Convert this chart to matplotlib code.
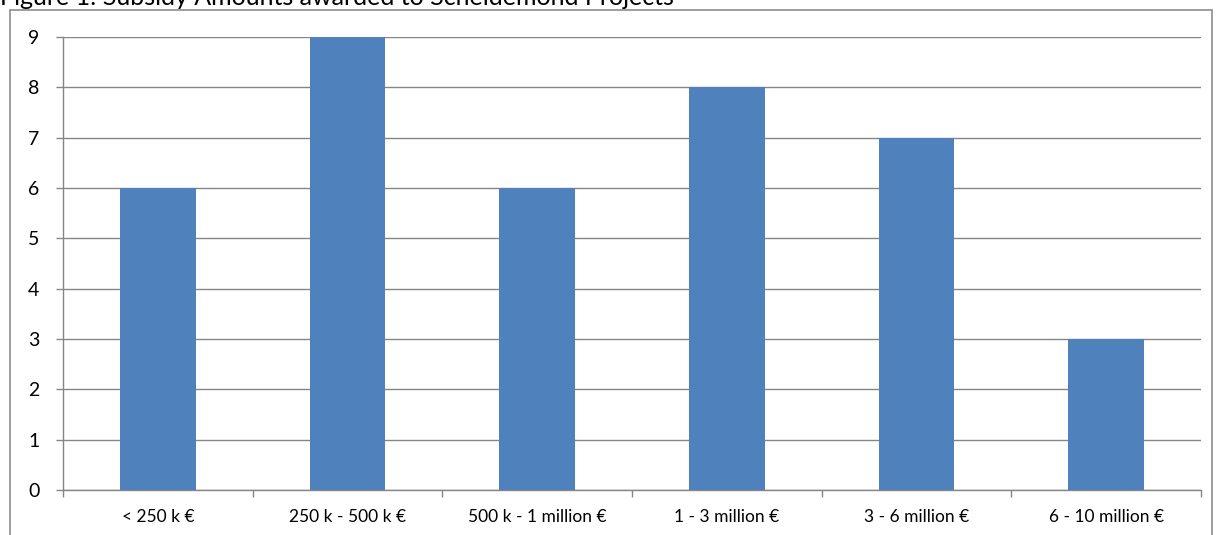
import matplotlib
matplotlib.use("Agg")
import matplotlib.pyplot as plt
from matplotlib.patches import Rectangle
import numpy as np

categories = ["< 250 k €", "250 k - 500 k €", "500 k - 1 million €",
              "1 - 3 million €", "3 - 6 million €", "6 - 10 million €"]
values = [6, 9, 6, 8, 7, 3]
y_ticks = [0, 1, 2, 3, 4, 5, 6, 7, 8, 9]
title = "Figure 1: Subsidy Amounts awarded to Scheldemond Projects"

plt.rcParams['font.family'] = ['Lato', 'DejaVu Sans']

W, H = 1216, 535
fig = plt.figure(figsize=(W / 100, H / 100), dpi=100)

# outer chart border
fig.patches.append(Rectangle((10 / W, -0.1), (1212 - 10) / W, 1 - 10 / H + 0.1,
                             transform=fig.transFigure, fill=False,
                             edgecolor="#8c8c8c", linewidth=1.2))

fig.text(0.0, 1 - 5 / H, title, fontsize=18, color="black", ha="left", va="baseline")

ax = fig.add_axes([63 / W, 1 - 490 / H, (1201 - 63) / W, (490 - 37) / H])
x = np.arange(len(categories))
ax.bar(x, values, width=0.4, color="#4F81BD", zorder=3)
ax.set_xlim(-0.5, len(categories) - 0.5)
ax.set_ylim(0, 9)
ax.set_yticks(y_ticks)
ax.set_yticklabels([str(v) for v in y_ticks], fontsize=14)
ax.set_xticks(x)
ax.set_xticklabels(categories, fontsize=12.5)
ax.set_xticks(np.arange(-0.5, len(categories)), minor=True)
ax.tick_params(axis="x", which="major", length=0, pad=14)
ax.tick_params(axis="x", which="minor", length=5, color="#868686", width=1)
ax.tick_params(axis="y", length=5, color="#868686", width=1, pad=12)
ax.yaxis.grid(True, color="#868686", linewidth=1, zorder=0)
for s in ["top", "right"]:
    ax.spines[s].set_visible(False)
for s in ["left", "bottom"]:
    ax.spines[s].set_color("#868686")
    ax.spines[s].set_linewidth(1)

fig.savefig("out.png", dpi=100)
